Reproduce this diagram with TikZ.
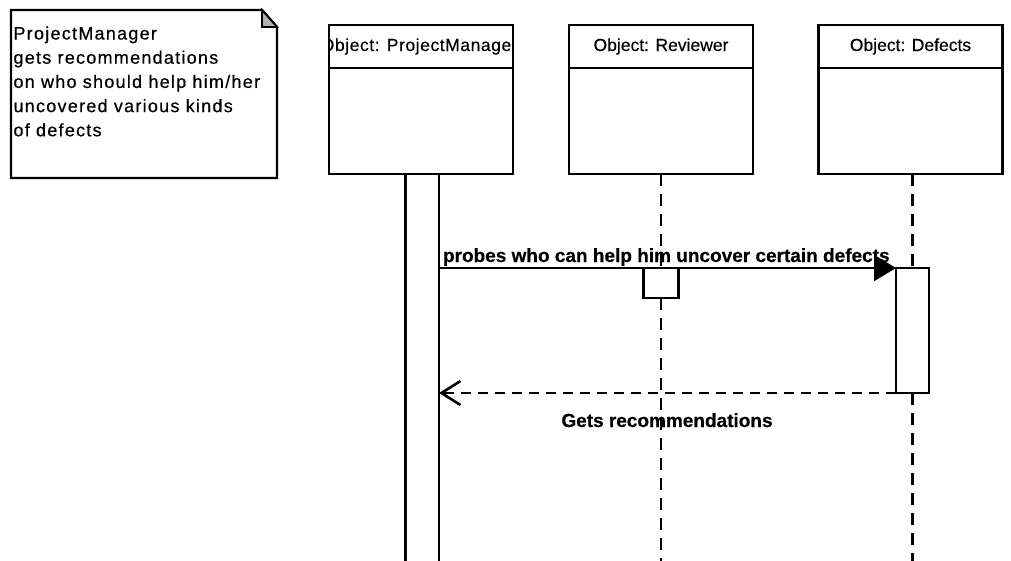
\documentclass[tikz,border=0pt]{standalone}
\usepackage{fontspec}
\setmainfont{Liberation Sans}[FakeBold=0.4]
\newfontfamily\notefont{Liberation Sans}[LetterSpace=7,FakeBold=0.5]
\newfontfamily\widehead{Liberation Sans}[LetterSpace=3.2,FakeBold=0.4]
\usetikzlibrary{arrows.meta}

\tikzset{
  every node/.style={inner sep=0pt, outer sep=0pt},
  objbox/.style={draw, line width=2.6pt, minimum width=184pt, minimum height=149pt},
  headtext/.style={anchor=base, font=\fontsize{17.5}{20}\selectfont},
  notetext/.style={anchor=base west, font=\notefont\fontsize{18}{22}\selectfont},
  msgtext/.style={font=\bfseries\fontsize{19}{22}\selectfont},
  actbar/.style={draw, fill=white, line width=2.6pt},
  lifeline/.style={line width=2.8pt, dash pattern=on 12pt off 8pt},
  callmsg/.style={line width=2.6pt, -{Triangle[length=22pt,width=26pt]}},
  retmsg/.style={line width=2.6pt, dash pattern=on 10pt off 7pt,
    -{Straight Barb[length=19pt,width=24pt,line width=2.6pt]}},
}

\begin{document}
\begin{tikzpicture}[x=1pt, y=-1pt]
\useasboundingbox (0,0) rectangle (1011,560);

% note with folded corner
\draw[line width=2.4pt, fill=white] (11,10) -- (262,10) -- (277,27) -- (277,178) -- (11,178) -- cycle;
\draw[line width=1.8pt, fill=gray!60] (262,10) -- (262,27) -- (277,27) -- cycle;
\node[notetext] (n1) at (13.5,39.5)  {ProjectManager};
\node[notetext] (n2) at (13.5,63.7)  {gets recommendations};
\node[notetext] (n3) at (13.5,87.9)  {on who should help him/her};
\node[notetext] (n4) at (13.5,112.1) {uncovered various kinds};
\node[notetext] (n5) at (13.5,136.3) {of defects};

% object boxes
\node[objbox] (pm)  at (421,99.5) {};
\node[objbox] (rev) at (661,99.5) {};
\node[objbox] (def) at (910.5,99.5) {};
\foreach \o in {pm,rev,def}
  \draw[line width=2.6pt] ([yshift=-43pt]\o.north west) -- ([yshift=-43pt]\o.north east);

\begin{scope}
  \clip (pm.north west) rectangle ([yshift=-43pt]pm.north east);
  \node[anchor=base west, font=\widehead\fontsize{17.5}{20}\selectfont] (pmlbl) at (320.8,51) {Object: ProjectManager};
\end{scope}
\draw[line width=2.6pt] (pm.north west) rectangle (pm.south east);
\node[headtext] (revlbl) at (661,51) {Object: Reviewer};
\node[headtext] (deflbl) at (910.5,51) {Object: Defects};

% activation bars
\node[actbar, minimum width=33.3pt, minimum height=406pt] (pmbar) at (422.35,377) {};
\node[actbar, minimum width=35pt, minimum height=30pt] (revbox) at (661,283) {};
\node[actbar, minimum width=33pt, minimum height=125pt] (defact) at (912.5,330.5) {};

% lifelines
\coordinate (revend) at (661,565);
\coordinate (defend) at (912.5,565);
\draw[lifeline] (rev.south) -- (revbox.north);
\draw[lifeline] (revbox.south) -- (revend);
\draw[lifeline] (defact.north |- def.south) -- (defact.north);
\draw[lifeline] (defact.south) -- (defend);

% messages
\draw[callmsg] (pmbar.east |- defact.north) -- (defact.north west);
\draw[retmsg] (defact.south west) -- (pmbar.east |- defact.south);
\node[msgtext, anchor=base west] (m1) at (443,262) {probes who can help him uncover certain defects};
\node[msgtext, anchor=base] (m2) at (667,427) {Gets recommendations};
\end{tikzpicture}
\end{document}
